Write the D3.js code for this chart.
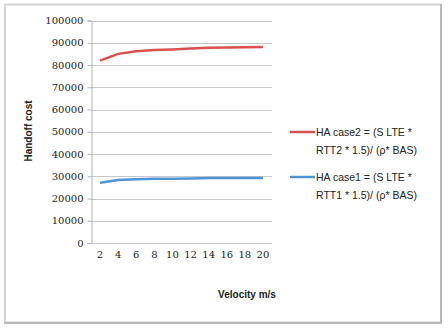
<!DOCTYPE html>
<html><head><meta charset="utf-8">
<script src="https://cdn.jsdelivr.net/npm/d3@7"></script>
<style>body{margin:0;background:#fff}svg{display:block}</style>
</head><body>
<svg id="c" width="448" height="331"></svg>
<script>
const categories = [2, 4, 6, 8, 10, 12, 14, 16, 18, 20];
const case2Values = [82000, 85000, 86200, 86700, 87000, 87400, 87700, 87900, 88000, 88100];
const case1Values = [27100, 28300, 28700, 28900, 28900, 29000, 29200, 29200, 29200, 29200];
const yTicks = [0, 10000, 20000, 30000, 40000, 50000, 60000, 70000, 80000, 90000, 100000];
const seriesNames = [["HA case2 = (S LTE *", "RTT2 * 1.5)/ (ρ* BAS)"], ["HA case1 = (S LTE *", "RTT1 * 1.5)/ (ρ* BAS)"]];
const seriesColors = ["#d9504c", "#4f93d2"];

const svg = d3.select("#c");
// border
svg.append("rect").attr("x", 5).attr("y", 4.5).attr("width", 436).attr("height", 318)
  .attr("fill", "#fff").attr("stroke", "#d4d4d4").attr("stroke-width", 2);
svg.append("line").attr("x1", 441).attr("x2", 441).attr("y1", 4).attr("y2", 324).attr("stroke", "#b8b8b8").attr("stroke-width", 2);
svg.append("line").attr("x1", 4).attr("x2", 442).attr("y1", 323).attr("y2", 323).attr("stroke", "#b8b8b8").attr("stroke-width", 2);

const x = d3.scaleBand().domain(categories).range([91, 272]);
const y = d3.scaleLinear().domain([0, 100000]).range([243, 20.5]);

// gridlines
svg.append("g").selectAll("line").data(yTicks).join("line")
  .attr("x1", 91).attr("x2", 272)
  .attr("y1", d => Math.round(y(d)) + 0.5).attr("y2", d => Math.round(y(d)) + 0.5)
  .attr("stroke", "#c4c8cc").attr("stroke-width", 1);

// y axis
const yAxis = d3.axisLeft(y).tickValues(yTicks).tickSize(4).tickPadding(4).tickFormat(d3.format("d"));
const ya = svg.append("g").attr("transform", "translate(91.5,0)").call(yAxis);
ya.select(".domain").attr("stroke", "#b0b4b8");
ya.selectAll(".tick line").attr("stroke", "#b0b4b8");
ya.selectAll(".tick text").attr("font-family", "DejaVu Serif").attr("font-size", 10).attr("fill", "#1a1a1a");

// x axis
const xAxis = d3.axisBottom(x).tickSize(0).tickPadding(8);
const xa = svg.append("g").attr("transform", "translate(0,243)").call(xAxis);
xa.select(".domain").remove();
xa.selectAll(".tick text").attr("font-family", "DejaVu Serif").attr("font-size", 10).attr("fill", "#1a1a1a");

// lines
const line = d3.line().x((d, i) => x(categories[i]) + x.bandwidth() / 2).y(d => y(d));
[case2Values, case1Values].forEach((vals, i) => {
  svg.append("path").datum(vals).attr("d", line).attr("fill", "none")
    .attr("stroke", seriesColors[i]).attr("stroke-width", 2.5).attr("stroke-linejoin", "round");
});

// axis titles
svg.append("text").attr("transform", "translate(32,131) rotate(-90)").attr("text-anchor", "middle")
  .attr("font-family", "Liberation Sans").attr("font-weight", "bold").attr("font-size", 10).attr("fill", "#222")
  .text("Handoff cost");
svg.append("text").attr("x", 247).attr("y", 298).attr("text-anchor", "middle")
  .attr("font-family", "Liberation Sans").attr("font-weight", "bold").attr("font-size", 10).attr("fill", "#222")
  .text("Velocity m/s");

// legend
const legY = [132, 177];
seriesNames.forEach((lines, i) => {
  const g = svg.append("g");
  g.append("line").attr("x1", 290).attr("x2", 315).attr("y1", legY[i]).attr("y2", legY[i])
    .attr("stroke", seriesColors[i]).attr("stroke-width", 2.5);
  lines.forEach((t, j) => {
    g.append("text").attr("x", 316).attr("y", legY[i] + 4 + j * 18)
      .attr("font-family", "Liberation Sans").attr("font-size", 10.5).attr("fill", "#222").text(t);
  });
});
</script>
</body></html>
